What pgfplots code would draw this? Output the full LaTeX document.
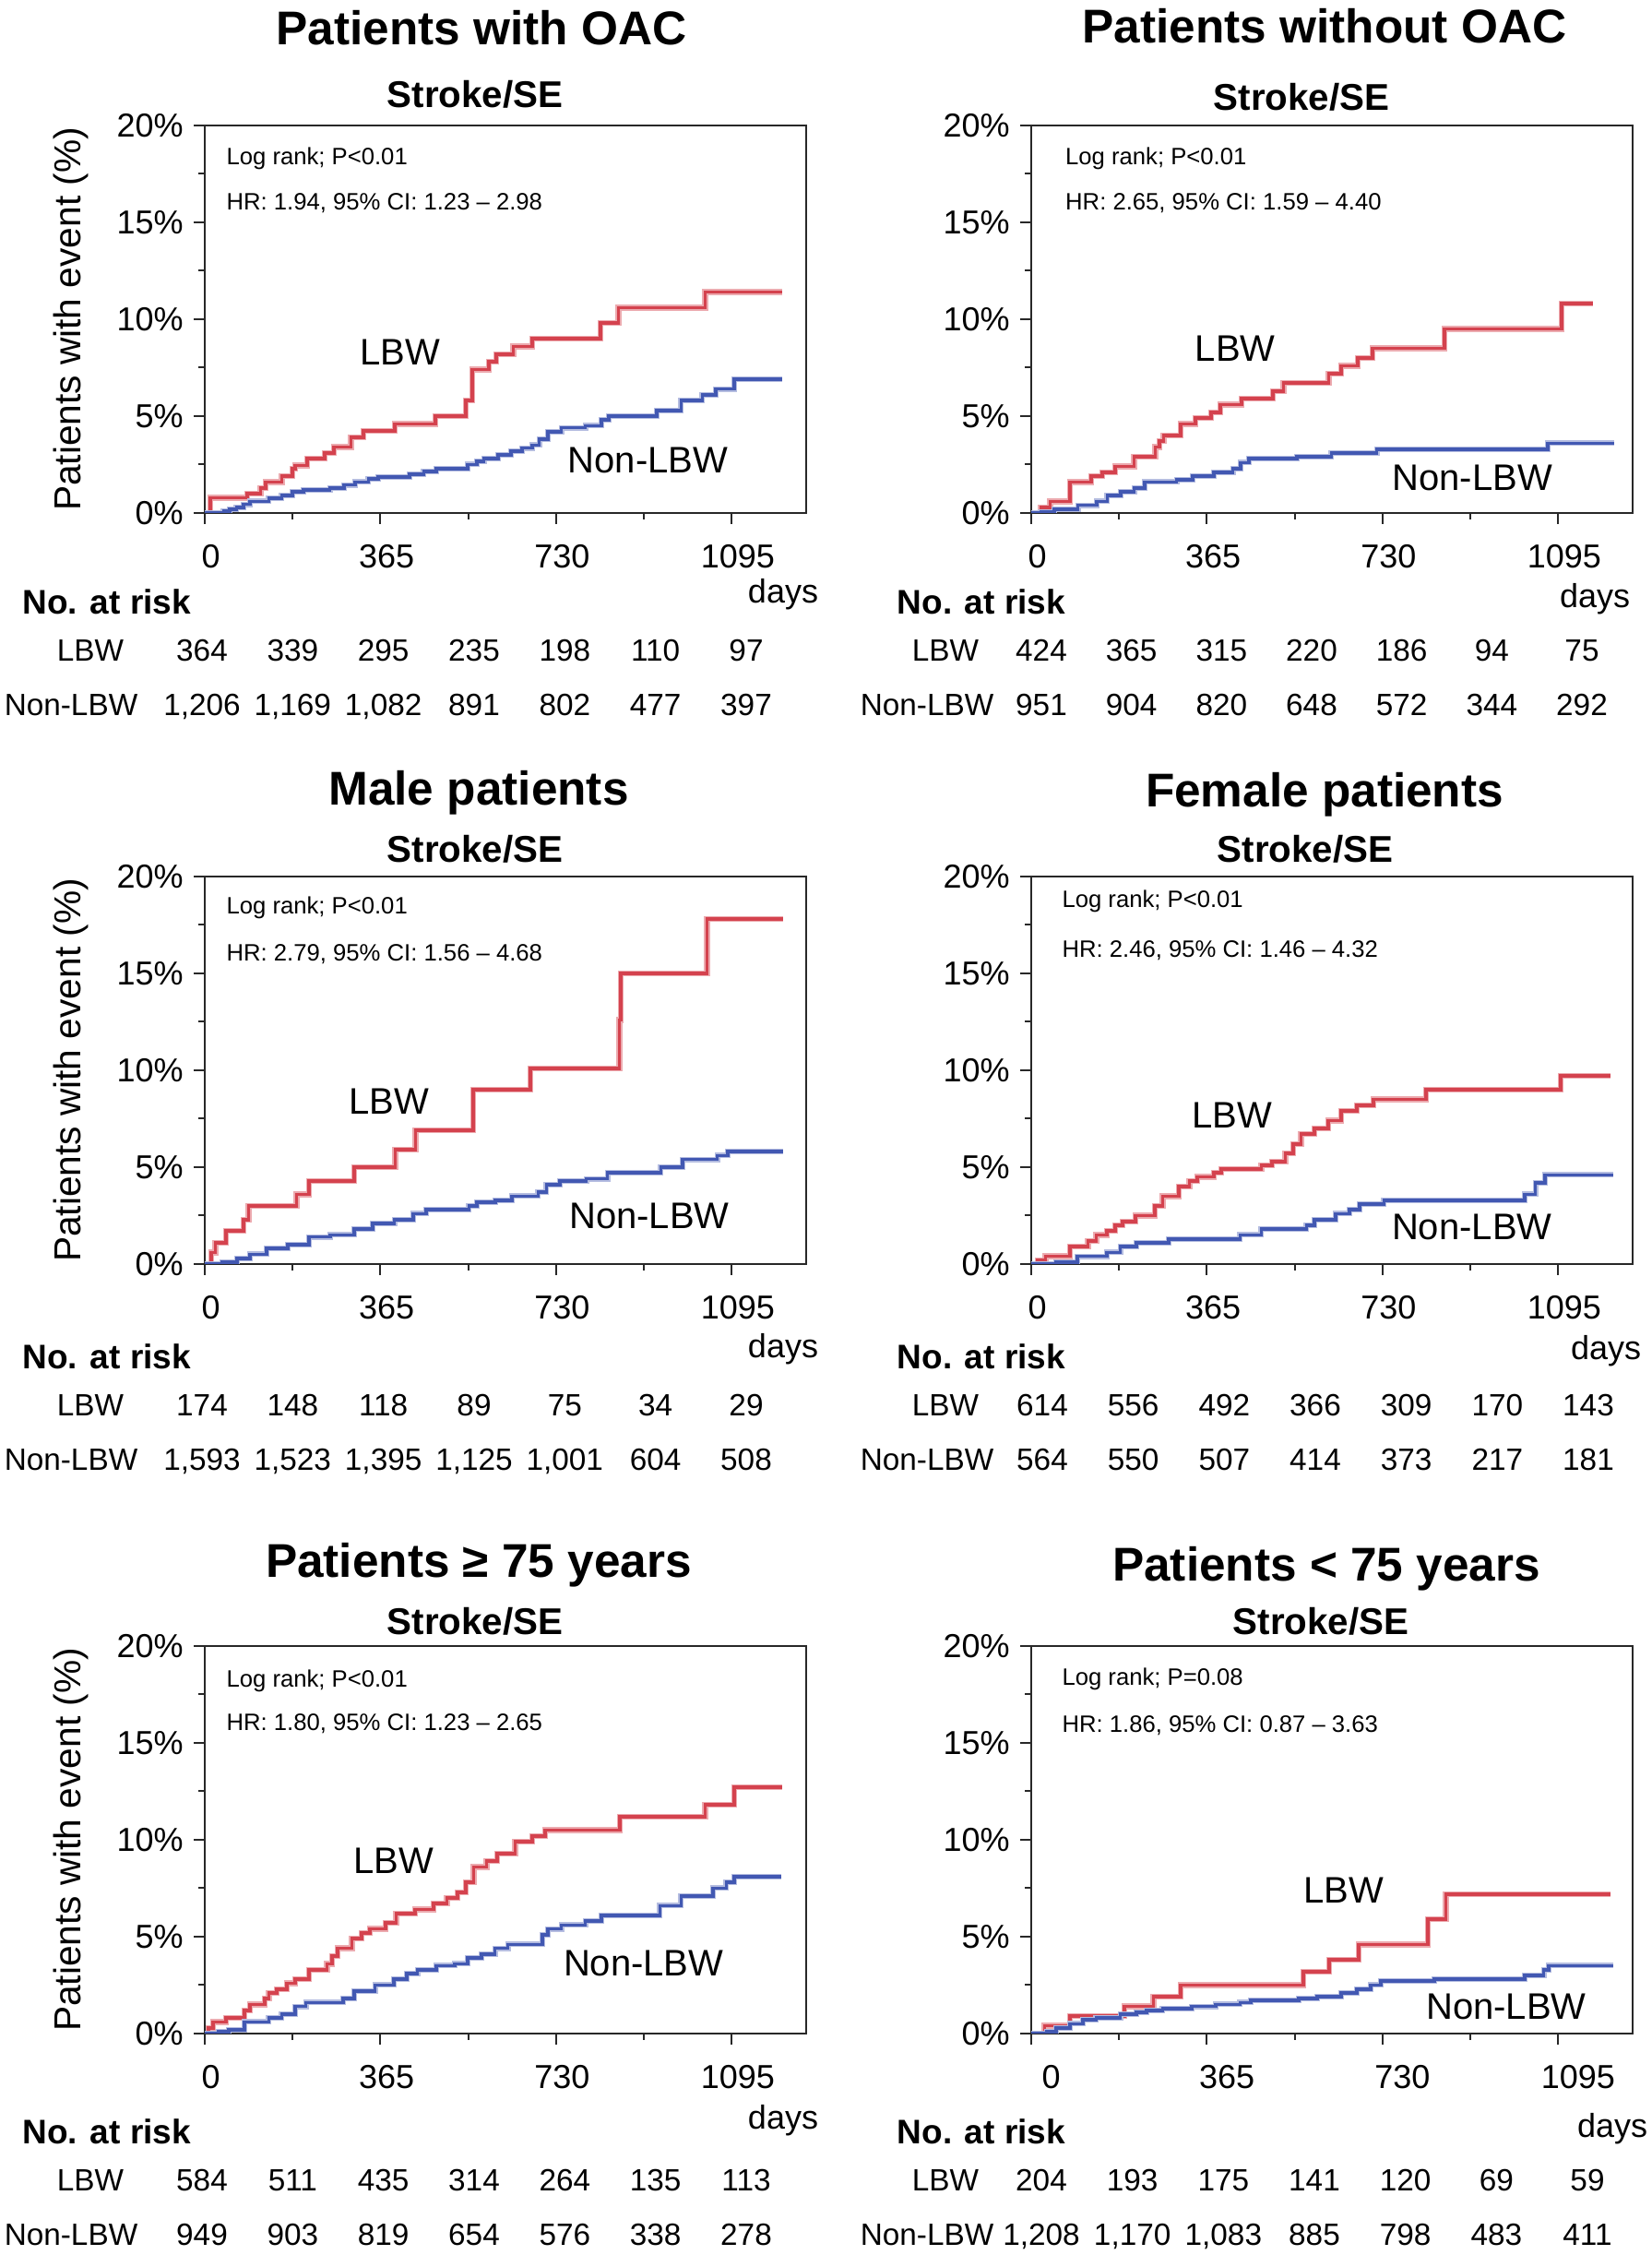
\documentclass[border=0pt]{standalone}
\usepackage{fontspec}
\setmainfont{Liberation Sans}
\usepackage{pgfplots}
\pgfplotsset{compat=1.18}
\definecolor{lbw}{RGB}{212,66,78}
\definecolor{nonlbw}{RGB}{66,88,178}
\definecolor{axc}{RGB}{40,40,40}

\pgfplotsset{km/.style={
  scale only axis, width=195.6pt, height=126pt,
  anchor=south west,
  xmin=0, xmax=1250, ymin=0, ymax=20,
  axis line style={line width=0.6pt, axc},
  xtick={0,365,730,1095}, xticklabels={0,365,730,1095},
  minor xtick={182.5,547.5,912.5},
  ytick={0,5,10,15,20}, yticklabels={0\%,5\%,10\%,15\%,20\%},
  minor ytick={2.5,7.5,12.5,17.5},
  tick align=outside, tick pos=left,
  major tick length=3.5pt, minor tick length=2pt,
  every tick/.style={line width=0.6pt, axc},
  ticklabel style={font=\fontsize{10.8}{12}\selectfont},
  xticklabel style={yshift=-3.3pt, xshift=2pt},
  every axis plot/.append style={const plot, line width=1.1pt, no markers},
}}
\tikzset{
  ttl/.style={font=\bfseries\fontsize{15.4}{18}\selectfont, text depth=0pt},
  sub/.style={font=\bfseries\fontsize{12.1}{14}\selectfont, text depth=0pt},
  risk/.style={font=\fontsize{10}{12}\selectfont, text depth=0pt},
  nar/.style={font=\bfseries\fontsize{11.1}{13}\selectfont, anchor=west, inner sep=0pt, text depth=0pt},
  days/.style={font=\fontsize{10.8}{12}\selectfont},
  ylab/.style={font=\fontsize{12.2}{14}\selectfont, rotate=90},
  ann/.style={font=\fontsize{7.7}{9}\selectfont, anchor=west, inner sep=0pt},
  cl/.style={font=\fontsize{12}{14}\selectfont},
  redl/.style={lbw, preaction={draw, lbw!45, line width=1.9pt}},
  bluel/.style={nonlbw, preaction={draw, nonlbw!40, line width=1.8pt}},
}
\newcommand{\risk}[6]{%
  \foreach \n [count=\i from 0] in {#5} {\node[risk] at ({#1+#2*\i}, #3) {\n};}
  \foreach \n [count=\i from 0] in {#6} {\node[risk] at ({#1+#2*\i}, #4) {\n};}
}

\begin{document}
\begin{tikzpicture}
\path[use as bounding box] (0pt,0pt) rectangle (537.3pt,733.2pt);

% ================= Panel 1: Patients with OAC =================
\begin{axis}[km, at={(66.6pt,566.4pt)}]
\addplot[redl] coordinates {(0,0) (11,0.78) (88,1.0) (116,1.3) (127,1.6) (160,1.9) (182,2.3) (188,2.45) (213,2.8) (249,3.1) (269,3.4) (304,3.9) (330,4.25) (395,4.6) (479,5.0) (542,5.8) (556,7.4) (590,7.8) (606,8.2) (641,8.6) (680,9.0) (822,9.8) (860,10.6) (1040,11.4) (1200,11.4)};
\addplot[bluel] coordinates {(0,0) (39,0.1) (52,0.2) (66,0.3) (80,0.45) (94,0.6) (133,0.75) (160,0.9) (182,1.1) (205,1.2) (260,1.3) (290,1.45) (313,1.6) (340,1.75) (360,1.85) (426,2.0) (455,2.15) (481,2.3) (547,2.5) (565,2.65) (580,2.8) (610,3.0) (636,3.2) (660,3.35) (680,3.5) (695,3.8) (713,4.2) (741,4.4) (791,4.5) (824,4.8) (840,5.0) (940,5.3) (990,5.8) (1034,6.1) (1062,6.4) (1100,6.9) (1200,6.9)};
\node[ann] at (axis cs:44,18.3) {Log rank; P<0.01};
\node[ann] at (axis cs:44,16.0) {HR: 1.94, 95\% CI: 1.23 – 2.98};
\node[cl] at (axis cs:406,8.3) {LBW};
\node[cl] at (axis cs:921,2.7) {Non-LBW};
\end{axis}
\node[ttl] at (156.6pt,724.2pt) {Patients with OAC};
\node[sub] at (154.5pt,702.6pt) {Stroke/SE};
\node[ylab] at (23.1pt,629.4pt) {Patients with event (\%)};
\node[days] at (254.7pt,540pt) {days};
\node[nar] at (7.2pt,537.6pt) {No. at risk};
\node[risk] at (29.4pt,521.7pt) {LBW};
\node[risk] at (23.1pt,504pt) {Non-LBW};
\risk{65.7pt}{29.5pt}{521.7pt}{504pt}{364,339,295,235,198,110,97}{{1,206},{1,169},{1,082},891,802,477,397}

% ================= Panel 2: Patients without OAC =================
\begin{axis}[km, at={(335.4pt,566.4pt)}]
\addplot[redl] coordinates {(0,0) (20,0.3) (39,0.6) (81,1.6) (125,1.9) (147,2.1) (175,2.4) (214,2.9) (258,3.4) (266,3.7) (275,4.0) (310,4.6) (341,4.9) (374,5.2) (393,5.6) (437,5.9) (502,6.3) (524,6.7) (618,7.2) (644,7.6) (679,8.0) (709,8.5) (859,9.5) (1102,10.8) (1167,10.8)};
\addplot[bluel] coordinates {(0,0) (20,0.05) (48,0.2) (97,0.4) (136,0.6) (158,0.9) (186,1.1) (214,1.3) (236,1.6) (302,1.7) (336,1.9) (380,2.1) (419,2.3) (435,2.6) (452,2.8) (552,2.9) (624,3.1) (718,3.3) (1073,3.6) (1211,3.6)};
\node[ann] at (axis cs:70,18.3) {Log rank; P<0.01};
\node[ann] at (axis cs:70,16.0) {HR: 2.65, 95\% CI: 1.59 – 4.40};
\node[cl] at (axis cs:424,8.5) {LBW};
\node[cl] at (axis cs:917,1.8) {Non-LBW};
\end{axis}
\node[ttl] at (430.8pt,724.8pt) {Patients without OAC};
\node[sub] at (423.3pt,701.7pt) {Stroke/SE};
\node[days] at (518.7pt,538.5pt) {days};
\node[nar] at (291.6pt,537.6pt) {No. at risk};
\node[risk] at (307.5pt,521.7pt) {LBW};
\node[risk] at (301.5pt,504pt) {Non-LBW};
\risk{338.7pt}{29.3pt}{521.7pt}{504pt}{424,365,315,220,186,94,75}{951,904,820,648,572,344,292}

% ================= Panel 3: Male patients =================
\begin{axis}[km, at={(66.6pt,322.2pt)}]
\addplot[redl] coordinates {(0,0) (13,0.6) (22,1.1) (44,1.7) (80,2.3) (91,3.0) (191,3.6) (216,4.3) (311,5.0) (396,5.9) (438,6.9) (558,9.0) (677,10.1) (862,12.6) (865,15.0) (1044,17.8) (1203,17.8)};
\addplot[bluel] coordinates {(0,0) (37,0.1) (67,0.3) (94,0.5) (128,0.8) (172,1.0) (216,1.4) (261,1.5) (311,1.8) (349,2.1) (394,2.3) (433,2.6) (460,2.8) (549,3.0) (566,3.2) (604,3.3) (638,3.5) (693,3.7) (710,4.1) (738,4.3) (793,4.4) (837,4.7) (948,5.0) (993,5.4) (1065,5.6) (1087,5.8) (1203,5.8)};
\node[ann] at (axis cs:44,18.4) {Log rank; P<0.01};
\node[ann] at (axis cs:44,16.0) {HR: 2.79, 95\% CI: 1.56 – 4.68};
\node[cl] at (axis cs:383,8.4) {LBW};
\node[cl] at (axis cs:924,2.5) {Non-LBW};
\end{axis}
\node[ttl] at (155.7pt,477pt) {Male patients};
\node[sub] at (154.5pt,457.2pt) {Stroke/SE};
\node[ylab] at (23.1pt,385.2pt) {Patients with event (\%)};
\node[days] at (254.7pt,294.6pt) {days};
\node[nar] at (7.2pt,292.2pt) {No. at risk};
\node[risk] at (29.4pt,276.3pt) {LBW};
\node[risk] at (23.1pt,258.6pt) {Non-LBW};
\risk{65.7pt}{29.5pt}{276.3pt}{258.6pt}{174,148,118,89,75,34,29}{{1,593},{1,523},{1,395},{1,125},{1,001},604,508}

% ================= Panel 4: Female patients =================
\begin{axis}[km, at={(335.4pt,322.2pt)}]
\addplot[redl] coordinates {(0,0) (13,0.2) (30,0.4) (80,0.9) (118,1.2) (135,1.5) (157,1.7) (174,2.0) (190,2.2) (216,2.5) (257,3.0) (273,3.5) (307,4.0) (329,4.3) (345,4.5) (379,4.7) (395,4.9) (478,5.1) (500,5.3) (528,5.7) (545,6.2) (561,6.7) (589,7.0) (617,7.4) (644,7.9) (677,8.2) (711,8.5) (821,9.0) (1101,9.7) (1203,9.7)};
\addplot[bluel] coordinates {(0,0) (52,0.1) (96,0.4) (157,0.6) (185,0.9) (218,1.1) (285,1.3) (434,1.5) (478,1.8) (572,2.0) (589,2.3) (633,2.6) (661,2.8) (683,3.1) (733,3.3) (1026,3.6) (1048,4.2) (1068,4.6) (1209,4.6)};
\node[ann] at (axis cs:63,18.7) {Log rank; P<0.01};
\node[ann] at (axis cs:63,16.2) {HR: 2.46, 95\% CI: 1.46 – 4.32};
\node[cl] at (axis cs:417,7.7) {LBW};
\node[cl] at (axis cs:916,1.9) {Non-LBW};
\end{axis}
\node[ttl] at (430.8pt,476.4pt) {Female patients};
\node[sub] at (424.5pt,457.2pt) {Stroke/SE};
\node[days] at (522.3pt,294pt) {days};
\node[nar] at (291.6pt,292.2pt) {No. at risk};
\node[risk] at (307.5pt,276.3pt) {LBW};
\node[risk] at (301.5pt,258.6pt) {Non-LBW};
\risk{339pt}{29.6pt}{276.3pt}{258.6pt}{614,556,492,366,309,170,143}{564,550,507,414,373,217,181}

% ================= Panel 5: Patients >= 75 years =================
\begin{axis}[km, at={(66.6pt,72pt)}]
\addplot[redl] coordinates {(0,0) (8,0.3) (17,0.6) (44,0.8) (83,1.2) (94,1.5) (125,1.8) (133,2.1) (149,2.3) (171,2.6) (188,2.8) (216,3.3) (254,3.6) (265,4.0) (276,4.4) (306,4.9) (326,5.2) (343,5.4) (376,5.7) (398,6.2) (437,6.4) (476,6.7) (503,7.0) (525,7.3) (542,7.8) (559,8.6) (586,8.9) (608,9.3) (645,9.9) (680,10.2) (708,10.5) (863,11.2) (1040,11.8) (1101,12.7) (1200,12.7)};
\addplot[bluel] coordinates {(0,0) (28,0.1) (50,0.2) (83,0.6) (133,0.8) (160,1.0) (188,1.4) (210,1.6) (288,1.8) (310,2.2) (354,2.5) (393,2.8) (420,3.1) (442,3.3) (481,3.5) (520,3.6) (547,3.9) (575,4.1) (603,4.4) (630,4.6) (702,5.1) (713,5.4) (741,5.6) (791,5.8) (824,6.1) (946,6.6) (990,7.1) (1056,7.5) (1084,7.8) (1101,8.1) (1198,8.1)};
\node[ann] at (axis cs:44,18.2) {Log rank; P<0.01};
\node[ann] at (axis cs:44,16.0) {HR: 1.80, 95\% CI: 1.23 – 2.65};
\node[cl] at (axis cs:393,8.9) {LBW};
\node[cl] at (axis cs:912,3.6) {Non-LBW};
\end{axis}
\node[ttl] at (155.7pt,225.9pt) {Patients ≥ 75 years};
\node[sub] at (154.5pt,206.1pt) {Stroke/SE};
\node[ylab] at (23.1pt,135pt) {Patients with event (\%)};
\node[days] at (254.7pt,43.8pt) {days};
\node[nar] at (7.2pt,40.2pt) {No. at risk};
\node[risk] at (29.4pt,24.3pt) {LBW};
\node[risk] at (23.1pt,6.6pt) {Non-LBW};
\risk{65.7pt}{29.5pt}{24.3pt}{6.6pt}{584,511,435,314,264,135,113}{949,903,819,654,576,338,278}

% ================= Panel 6: Patients < 75 years =================
\begin{axis}[km, at={(335.4pt,72pt)}, xticklabel style={xshift=4.5pt}]
\addplot[redl] coordinates {(0,0) (28,0.4) (80,0.9) (194,1.4) (254,1.9) (310,2.5) (565,3.2) (619,3.8) (681,4.6) (824,5.9) (862,7.2) (1203,7.2)};
\addplot[bluel] coordinates {(0,0) (32,0.1) (52,0.3) (80,0.5) (107,0.7) (135,0.8) (185,1.0) (218,1.1) (240,1.2) (273,1.3) (334,1.4) (384,1.5) (434,1.6) (456,1.7) (556,1.8) (594,1.9) (644,2.1) (677,2.3) (705,2.5) (727,2.7) (838,2.8) (1026,3.0) (1065,3.3) (1076,3.5) (1209,3.5)};
\node[ann] at (axis cs:63,18.3) {Log rank; P=0.08};
\node[ann] at (axis cs:63,15.9) {HR: 1.86, 95\% CI: 0.87 – 3.63};
\node[cl] at (axis cs:650,7.4) {LBW};
\node[cl] at (axis cs:987,1.4) {Non-LBW};
\end{axis}
\node[ttl] at (431.4pt,224.7pt) {Patients < 75 years};
\node[sub] at (429.6pt,206.1pt) {Stroke/SE};
\node[days] at (524.4pt,41.1pt) {days};
\node[nar] at (291.6pt,40.2pt) {No. at risk};
\node[risk] at (307.5pt,24.3pt) {LBW};
\node[risk] at (301.5pt,6.6pt) {Non-LBW};
\risk{338.7pt}{29.6pt}{24.3pt}{6.6pt}{204,193,175,141,120,69,59}{{1,208},{1,170},{1,083},885,798,483,411}
\end{tikzpicture}
\end{document}
